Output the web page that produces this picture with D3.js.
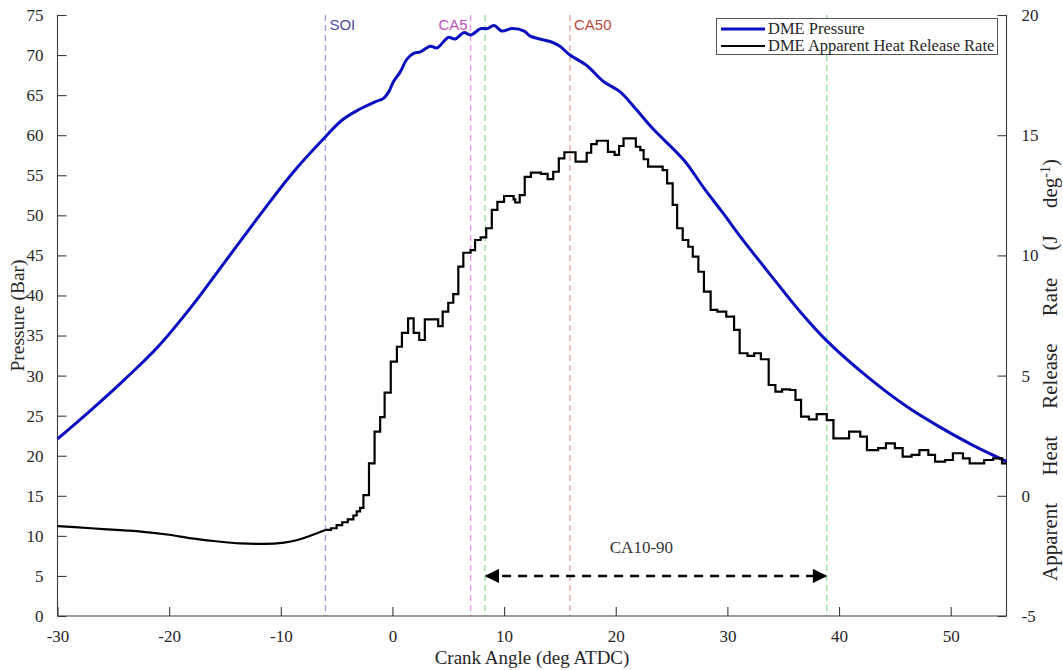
<!DOCTYPE html>
<html>
<head>
<meta charset="utf-8">
<script src="https://cdn.jsdelivr.net/npm/d3@7"></script>
<style>
  body { margin: 0; background: #fff; }
  svg { display: block; }
</style>
</head>
<body>
<svg id="chart" width="1063" height="670"></svg>
<script>
// Cylinder pressure (bar) against crank angle (deg ATDC)
const pressureCA = [-30,-27,-24,-21,-18,-15,-12,-9,-6,-4.5,-3,-1.5,-0.8,-0.3,0.1,0.7,1.3,1.9,2.5,3.4,4.0,5.0,5.6,6.4,7.0,7.9,8.5,9.1,9.8,10.7,11.8,12.3,13.2,14.3,15.0,15.9,17.4,18.9,20.4,21.9,23.4,26.1,27.9,29.6,31.4,33.5,36.5,39.0,42.5,46.1,49.0,52.0,55];
const pressureBar = [22.1,25.7,29.5,33.6,38.6,44.2,49.8,55.2,59.8,61.9,63.2,64.2,64.6,65.5,66.7,67.9,69.5,70.2,70.4,71.1,70.9,72.2,72.0,72.8,72.5,73.3,73.3,73.7,73.0,73.3,73.0,72.4,72.0,71.6,71.1,70.0,68.7,66.7,65.4,63.1,60.7,56.9,53.4,50.3,46.9,43.2,38.0,34.2,29.9,26.1,23.6,21.3,19.3];

// Apparent heat release rate (J/deg) before start of injection (smooth trace)
const hrrPreCA = [-30,-27,-24,-22.5,-20,-18,-16,-13.6,-11.5,-9.7,-8.5,-7.6,-6];
const hrrPre = [-1.26,-1.35,-1.44,-1.49,-1.62,-1.77,-1.88,-1.98,-2.0,-1.95,-1.84,-1.70,-1.42];

// Apparent heat release rate (J/deg) from start of injection (sampled, stepwise)
const hrrCA = [-6,-5.5,-5,-4.5,-4,-3.5,-3.2,-2.9,-2.6,-2.1,-1.6,-1.1,-0.7,-0.15,0.4,0.85,1.4,1.9,2.4,2.9,4.1,4.5,5.0,5.45,5.9,6.35,7.0,7.4,7.9,8.4,8.9,9.4,10.0,10.85,11.0,11.4,11.85,12.4,13.3,13.9,14.4,14.9,15.4,16.4,17.4,17.8,18.3,19.3,19.9,20.3,20.7,21.8,22.2,22.5,22.9,24.2,24.6,25.1,25.5,26.0,26.5,26.9,27.4,27.9,28.5,29.1,29.9,30.6,31.1,31.8,32.4,33.0,33.7,34.3,34.9,35.6,36.1,36.6,37.3,38.0,38.9,39.5,40.9,41.9,42.5,43.5,44.2,45.0,45.7,46.5,47.2,48.0,48.6,49.5,50.2,51.1,51.7,53.0,53.8,54.6,55];
const hrr = [-1.42,-1.35,-1.22,-1.1,-0.98,-0.82,-0.65,-0.5,0.03,1.35,2.67,3.27,4.29,5.58,6.2,6.78,7.38,6.78,6.48,7.34,7.06,7.66,8.03,8.39,9.53,10.11,10.22,10.64,10.75,11.13,11.89,12.23,12.47,12.33,12.2,12.51,13.27,13.44,13.39,13.17,13.48,14.04,14.29,13.9,14.27,14.63,14.77,14.31,14.18,14.55,14.87,14.52,14.38,14.0,13.69,13.55,13.0,12.1,11.13,10.64,10.36,9.95,9.32,8.49,7.73,7.66,7.45,6.9,5.93,5.82,5.93,5.68,4.61,4.33,4.43,4.40,3.99,3.29,3.18,3.40,3.15,2.39,2.67,2.46,1.9,1.98,2.18,1.98,1.63,1.70,1.90,1.70,1.42,1.49,1.77,1.56,1.35,1.49,1.56,1.35,1.35];

// Combustion phasing markers (deg ATDC)
const markerNames = ["SOI", "CA5", "CA10", "CA50", "CA90"];
const markerCA = [-6, 7, 8.3, 15.9, 38.9];
const markerColors = ["#9c9ce6", "#ea8fea", "#93dc93", "#e2a3a3", "#93dc93"];
const markerLabels = ["SOI", "CA5", "", "CA50", ""];
const markerLabelColors = ["#4b4b9c", "#c24fc2", "", "#c0483c", ""];

// Duration arrow CA10 -> CA90 drawn at this pressure level
const durationLevel = 5;
const durationLabel = "CA10-90";
const durationLabelAt = [22.3, 8.6];

const xTicks = [-30,-20,-10,0,10,20,30,40,50];
const yLeftTicks = d3.range(0, 76, 5);
const yRightTicks = [-5, 0, 5, 10, 15, 20];

const legendNames = ["DME Pressure", "DME Apparent Heat Release Rate"];
const pressureColor = "#0a0fbf";
const hrrColor = "#000000";

const svg = d3.select("#chart");
const plotL = 57.5, plotR = 1006.5, plotT = 15, plotB = 616;

const x = d3.scaleLinear().domain([-30, 55]).range([plotL, plotR]);
const yL = d3.scaleLinear().domain([0, 75]).range([plotB, plotT]);
const yR = d3.scaleLinear().domain([-5, 20]).range([plotB, plotT]);

const axisColor = "#3a3a3a";
const serif = "'Liberation Serif', 'Times New Roman', serif";
const plainNum = d => String(d);

// Phasing marker lines
markerCA.forEach((ca, i) => {
  svg.append("line")
    .attr("x1", x(ca)).attr("x2", x(ca))
    .attr("y1", plotT).attr("y2", plotB)
    .attr("stroke", markerColors[i]).attr("stroke-width", 1.3)
    .attr("stroke-dasharray", "6,4");
});

// Axes (ticks point inward)
const gx = svg.append("g").attr("transform", `translate(0,${plotB})`)
  .call(d3.axisBottom(x).tickValues(xTicks).tickSize(-9).tickPadding(14).tickFormat(plainNum));
const gl = svg.append("g").attr("transform", `translate(${plotL},0)`)
  .call(d3.axisLeft(yL).tickValues(yLeftTicks).tickSize(-9).tickPadding(14).tickFormat(plainNum));
const gr = svg.append("g").attr("transform", `translate(${plotR},0)`)
  .call(d3.axisRight(yR).tickValues(yRightTicks).tickSize(-9).tickPadding(15).tickFormat(plainNum));

[gx, gl, gr].forEach(g => {
  g.select(".domain").attr("stroke", axisColor).attr("stroke-width", 1.1);
  g.selectAll(".tick line").attr("stroke", axisColor).attr("stroke-width", 1.1);
  g.selectAll(".tick text").attr("fill", "#262626")
    .style("font-family", serif).style("font-size", "17px");
});
gl.select(".domain").attr("d", `M0,${plotB}V${plotT}`);
gr.select(".domain").attr("d", `M0,${plotB}V${plotT}`);
gx.select(".domain").attr("d", `M${plotL},0H${plotR}`);

// Marker labels
markerCA.forEach((ca, i) => {
  if (!markerLabels[i]) return;
  const isRight = markerLabels[i] === "CA5";
  svg.append("text")
    .attr("x", isRight ? x(ca) - 3 : x(ca) + 4)
    .attr("y", 30)
    .attr("text-anchor", isRight ? "end" : "start")
    .attr("fill", markerLabelColors[i])
    .style("font-family", "'Liberation Sans', Arial, sans-serif")
    .style("font-size", "15px")
    .text(markerLabels[i]);
});

// Pressure curve
const pData = pressureCA.map((c, i) => [c, pressureBar[i]]);
svg.append("path").datum(pData)
  .attr("fill", "none").attr("stroke", pressureColor).attr("stroke-width", 3)
  .attr("stroke-linejoin", "round")
  .attr("d", d3.line().x(d => x(d[0])).y(d => yL(d[1])).curve(d3.curveCatmullRom.alpha(0.5)));

// Heat release rate: smooth part, then stepped part
const hPre = hrrPreCA.map((c, i) => [c, hrrPre[i]]);
svg.append("path").datum(hPre)
  .attr("fill", "none").attr("stroke", hrrColor).attr("stroke-width", 2.2)
  .attr("d", d3.line().x(d => x(d[0])).y(d => yR(d[1])).curve(d3.curveMonotoneX));
const hData = hrrCA.map((c, i) => [c, hrr[i]]);
svg.append("path").datum(hData)
  .attr("fill", "none").attr("stroke", hrrColor).attr("stroke-width", 2.2)
  .attr("d", d3.line().x(d => x(d[0])).y(d => yR(d[1])).curve(d3.curveStepAfter));

// CA10-90 duration arrow
const defs = svg.append("defs");
defs.append("marker").attr("id", "tri").attr("viewBox", "0 0 10 10")
  .attr("refX", 9).attr("refY", 5).attr("markerWidth", 6).attr("markerHeight", 5.5)
  .attr("orient", "auto-start-reverse").attr("markerUnits", "strokeWidth")
  .append("path").attr("d", "M0,0L10,5L0,10Z").attr("fill", "#000");
const ay = yL(durationLevel);
svg.append("line")
  .attr("x1", x(markerCA[2]) + 1).attr("x2", x(markerCA[4]) - 1)
  .attr("y1", ay).attr("y2", ay)
  .attr("stroke", "#000").attr("stroke-width", 2.6)
  .attr("stroke-dasharray", "9,7")
  .attr("marker-start", "url(#tri)").attr("marker-end", "url(#tri)");
svg.append("text")
  .attr("x", x(durationLabelAt[0])).attr("y", yL(durationLabelAt[1]) + 6)
  .attr("text-anchor", "middle").attr("fill", "#333")
  .style("font-family", serif).style("font-size", "17px")
  .text(durationLabel);

// Axis titles
svg.append("text")
  .attr("x", (plotL + plotR) / 2).attr("y", 664)
  .attr("text-anchor", "middle").attr("fill", "#262626")
  .style("font-family", serif).style("font-size", "19px")
  .text("Crank Angle (deg ATDC)");
svg.append("text")
  .attr("transform", `translate(24,${(plotT + plotB) / 2}) rotate(-90)`)
  .attr("text-anchor", "middle").attr("fill", "#262626")
  .style("font-family", serif).style("font-size", "19.5px")
  .text("Pressure (Bar)");
const rt = svg.append("text")
  .attr("transform", `translate(1057,370) rotate(-90)`)
  .attr("text-anchor", "middle").attr("fill", "#262626")
  .style("font-family", serif).style("font-size", "21px")
  .style("word-spacing", "22px");
rt.append("tspan").text("Apparent Heat Release Rate (J deg");
rt.append("tspan").attr("dy", -7).style("font-size", "14px").text("-1");
rt.append("tspan").attr("dy", 7).text(")");

// Legend
const lg = svg.append("g");
lg.append("rect").attr("x", 716.5).attr("y", 18.5).attr("width", 281).attr("height", 36)
  .attr("fill", "#fff").attr("stroke", "#555").attr("stroke-width", 1);
[pressureColor, hrrColor].forEach((c, i) => {
  const yy = 29 + i * 17;
  lg.append("line").attr("x1", 721).attr("x2", 765).attr("y1", yy).attr("y2", yy)
    .attr("stroke", c).attr("stroke-width", i === 0 ? 3 : 2);
  lg.append("text").attr("x", 768).attr("y", yy + 5)
    .attr("fill", "#262626")
    .style("font-family", serif).style("font-size", "16.5px")
    .text(legendNames[i]);
});
</script>
</body>
</html>
